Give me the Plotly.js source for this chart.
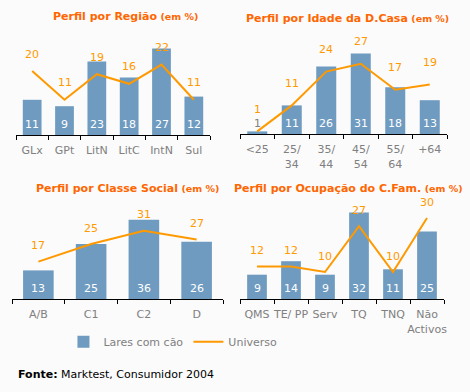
<!DOCTYPE html>
<html>
<head>
<meta charset="utf-8">
<script src="https://cdn.plot.ly/plotly-3.0.1.min.js"></script>
<style>html,body{margin:0;padding:0;background:#fbfbfb;}</style>
</head>
<body>
<div id="chart" style="width:470px;height:392px;"></div>
<script>
// Perfil por Região
const regiaoCats = ["GLx", "GPt", "LitN", "LitC", "IntN", "Sul"];
const regiaoLares = [11, 9, 23, 18, 27, 12];
const regiaoUniverso = [20, 11, 19, 16, 22, 11];

// Perfil por Idade da D.Casa
const idadeCats = ["&lt;25", "25/<br>34", "35/<br>44", "45/<br>54", "55/<br>64", "+64"];
const idadeLares = [1, 11, 26, 31, 18, 13];
const idadeUniverso = [1, 11, 24, 27, 17, 19];

// Perfil por Classe Social
const classeCats = ["A/B", "C1", "C2", "D"];
const classeLares = [13, 25, 36, 26];
const classeUniverso = [17, 25, 31, 27];

// Perfil por Ocupação do C.Fam.
const ocupCats = ["QMS", "TE/ PP", "Serv", "TQ", "TNQ", "Não<br>Activos"];
const ocupLares = [9, 14, 9, 32, 11, 25];
const ocupUniverso = [12, 12, 10, 27, 10, 30];

const BAR = "#6f9bc0";
const LINE = "#ff9900";
const FONT = "DejaVu Sans, Verdana, sans-serif";

const panels = [
  {cats: regiaoCats, lares: regiaoLares, uni: regiaoUniverso, xa: "x", ya: "y", lift: 17},
  {cats: idadeCats, lares: idadeLares, uni: idadeUniverso, xa: "x2", ya: "y2", lift: 22},
  {cats: classeCats, lares: classeLares, uni: classeUniverso, xa: "x3", ya: "y3", lift: 16},
  {cats: ocupCats, lares: ocupLares, uni: ocupUniverso, xa: "x4", ya: "y4", lift: 16}
];

const traces = [];
const annotations = [];
panels.forEach((p, i) => {
  traces.push({
    type: "bar", x: p.cats, y: p.lares, xaxis: p.xa, yaxis: p.ya,
    name: "Lares com cão", marker: {color: BAR}, width: 0.58,
    showlegend: i === 0, legendgroup: "lares", hoverinfo: "x+y"
  });
  traces.push({
    type: "scatter", mode: "lines", x: p.cats, y: p.uni, xaxis: p.xa, yaxis: p.ya,
    name: "Universo", line: {color: LINE, width: 2},
    showlegend: i === 0, legendgroup: "uni", hoverinfo: "x+y"
  });
  // category index k is the position of p.cats[k] on the category axis
  p.lares.forEach((v, k) => {
    annotations.push({
      xref: p.xa, yref: p.ya, x: k, y: 0, yshift: 11,
      text: String(v), showarrow: false,
      font: {family: FONT, size: 11, color: v < 3 ? "#808080" : "#ffffff"}
    });
  });
  p.uni.forEach((v, k) => {
    annotations.push({
      xref: p.xa, yref: p.ya, x: k, y: v, yshift: p.lift,
      text: String(v), showarrow: false,
      font: {family: FONT, size: 11, color: LINE}
    });
  });
});

const titles = [
  {text: "Perfil por Região", x: 0.266, y: 0.959},
  {text: "Perfil por Idade da D.Casa", x: 0.740, y: 0.954},
  {text: "Perfil por Classe Social", x: 0.272, y: 0.520},
  {text: "Perfil por Ocupação do C.Fam.", x: 0.742, y: 0.520}
];
titles.forEach(t => {
  annotations.push({
    xref: "paper", yref: "paper", x: t.x, y: t.y, xanchor: "center", yanchor: "middle",
    showarrow: false,
    text: "<b>" + t.text + "</b> <span style='font-size:9.5px'><b>(em %)</b></span>",
    font: {family: FONT, size: 11, color: "#ff6600"}
  });
});

annotations.push({
  xref: "paper", yref: "paper", x: 0.034, y: 0.0434, xanchor: "left", yanchor: "middle",
  showarrow: false, text: "<b>Fonte:</b> Marktest, Consumidor 2004",
  font: {family: FONT, size: 11, color: "#000000"}
});

function xax(domain, anchor) {
  return {
    domain: domain, anchor: anchor, type: "category",
    showline: true, linecolor: "#000000", linewidth: 1,
    ticks: "outside", tickson: "boundaries", ticklen: 4, tickcolor: "#000000",
    tickangle: 0, ticklabelstandoff: 5,
    showgrid: false, zeroline: false, fixedrange: true,
    tickfont: {family: FONT, size: 11, color: "#808080"}
  };
}
function yax(domain, range, anchor) {
  return {domain: domain, range: range, anchor: anchor, visible: false, showgrid: false, zeroline: false, fixedrange: true};
}

const layout = {
  width: 470, height: 392,
  margin: {l: 0, r: 0, t: 0, b: 0},
  paper_bgcolor: "#fbfbfb", plot_bgcolor: "rgba(0,0,0,0)",
  font: {family: FONT, size: 11, color: "#808080"},
  bargap: 0.42,
  xaxis: xax([16/470, 210/470], "y"),
  yaxis: yax([(392-135)/392, (392-30)/392], [0, 105/3.2], "x"),
  xaxis2: xax([240/470, 447/470], "y2"),
  yaxis2: yax([(392-134)/392, (392-30)/392], [0, 104/2.6], "x2"),
  xaxis3: xax([12/470, 223/470], "y3"),
  yaxis3: yax([(392-299)/392, (392-199)/392], [0, 100/2.2], "x3"),
  xaxis4: xax([240/470, 444/470], "y4"),
  yaxis4: yax([(392-299)/392, (392-199)/392], [0, 100/2.7], "x4"),
  showlegend: true,
  legend: {
    orientation: "h", x: 0.135, y: 0.128, xanchor: "left", yanchor: "middle",
    bgcolor: "rgba(0,0,0,0)", font: {family: FONT, size: 11, color: "#808080"},
    itemwidth: 30, tracegroupgap: 0
  },
  annotations: annotations
};

Plotly.newPlot("chart", traces, layout, {displayModeBar: false, staticPlot: true});
</script>
</body>
</html>
